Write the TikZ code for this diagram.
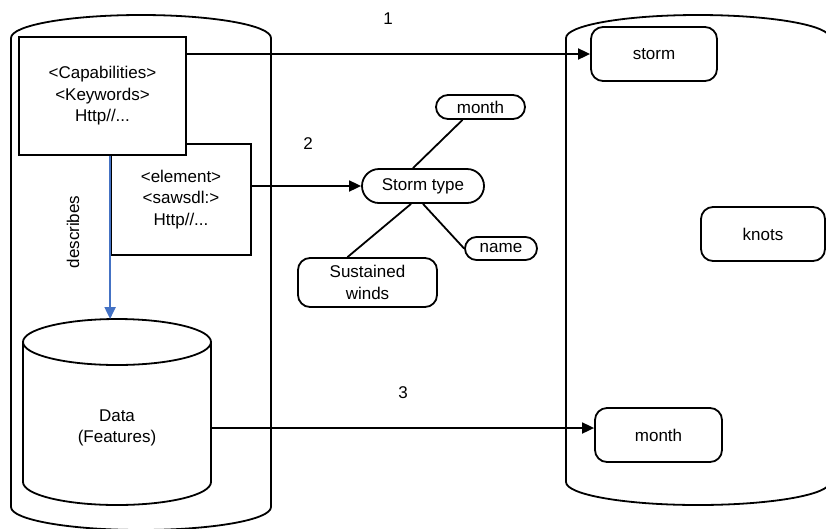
\documentclass[tikz,border=0pt]{standalone}
\usepackage{fontspec}
\setmainfont{Liberation Sans}
\usepackage{xcolor}
\usetikzlibrary{arrows.meta, positioning}
\definecolor{descblue}{RGB}{68,114,196}

\begin{document}
\begin{tikzpicture}[x=1pt, y=-1pt, line width=1.8pt, font=\fontsize{17}{21.5}\selectfont]
\tikzstyle{box} = [rectangle, draw=black, fill=white, text centered, align=center]
\tikzstyle{term} = [rectangle, rounded corners=12pt, minimum width=126pt, minimum height=54pt, draw=black, fill=white]
\tikzstyle{pill} = [rectangle, draw=black, fill=white, inner sep=0pt]
\tikzstyle{arrow} = [->, >={Triangle[length=12pt, width=11pt]}]

\useasboundingbox (0,0) rectangle (826,528);
\clip (0,0) rectangle (826,528);

% the two stores
\draw (11,507) -- (11,38) arc[start angle=180, end angle=360, x radius=130, y radius=23] -- (271,507) arc[start angle=0, end angle=180, x radius=130, y radius=23];
\draw (566,482) -- (566,38) arc[start angle=180, end angle=360, x radius=132, y radius=23] -- (830,482) arc[start angle=0, end angle=180, x radius=132, y radius=23];

% annotations
\node (element) [box, minimum width=140pt, minimum height=111pt] at (181,199.5) {<element>\\<sawsdl:>\\Http//...};
\node (caps) [box, minimum width=167pt, minimum height=118pt] at (102.5,96) {<Capabilities>\\<Keywords>\\Http//...};

% data cylinder
\draw (23,342) -- (23,482) arc[start angle=180, end angle=0, x radius=94, y radius=23] -- (211,342);
\draw (117,342) ellipse[x radius=94, y radius=23];
\coordinate (datatop) at (117,319);
\node (data) [minimum width=188pt, align=center] at (117,428) {Data\\(Features)};

\node (desc) [rotate=90] at (73,232) {describes};
\draw [arrow, color=descblue, line width=2.2pt] (element.west |- caps.south) -- (element.west |- datatop);

% ontology
\node (stormtype) [pill, rounded corners=17pt, minimum width=122pt, minimum height=34pt] at (423,186) {Storm type};
\node (month1) [pill, rounded corners=12pt, minimum width=89pt, minimum height=24pt] at (480.5,107) {month};
\node (name) [pill, rounded corners=11.5pt, minimum width=72pt, minimum height=23pt] at (501,248.5) {name};
\node (sustained) [pill, rounded corners=12pt, minimum width=139pt, minimum height=49pt, align=center, font=\fontsize{17}{22}\selectfont] at (367.5,282.5) {Sustained\\winds};

\draw ([xshift=-10pt]stormtype.north) -- ([xshift=-18pt]month1.south);
\draw ([xshift=-12pt]stormtype.south) -- ([xshift=-20pt]sustained.north);
\draw (stormtype.south) -- (name.west);

% target store
\node (storm) [term] at (654,54) {storm};
\node (knots) [term, minimum width=124pt] at (763,234) {knots};
\node (month2) [term, minimum width=127pt] at (658.5,435) {month};

\draw [arrow] (caps.east |- storm) -- (storm.west);
\draw [arrow] (element.east |- stormtype) -- (stormtype.west);
\draw [arrow] (data.east) -- (data.east -| month2.west);

\node (lbl1) at (388,19) {1};
\node (lbl2) at (308,144) {2};
\node (lbl3) at (403,393) {3};
\end{tikzpicture}
\end{document}
